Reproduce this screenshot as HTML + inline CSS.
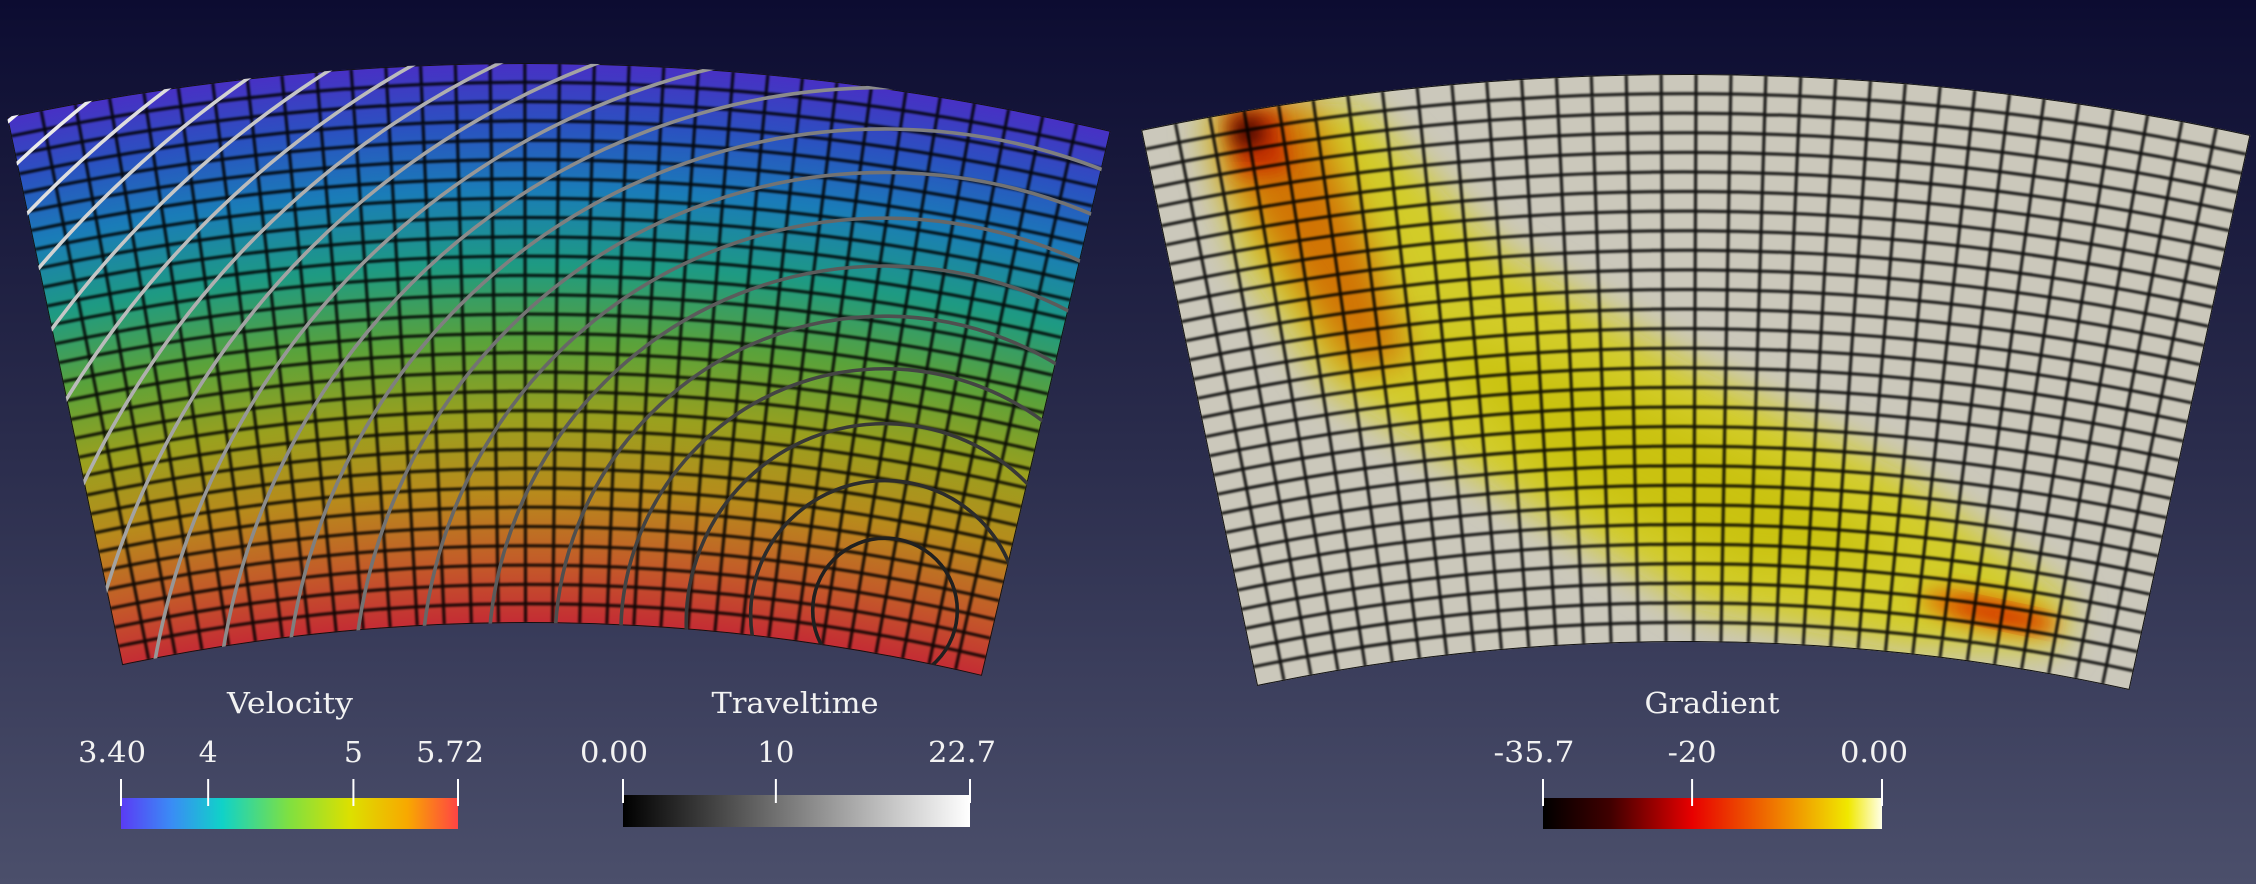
<!DOCTYPE html>
<html><head><meta charset="utf-8">
<style>
html,body{margin:0;padding:0;width:2256px;height:884px;overflow:hidden;}
svg{display:block;position:absolute;left:0;top:0;}
text{font-family:"DejaVu Serif","Liberation Serif",serif;fill:#f2f2f2;}
</style></head>
<body>
<svg id="main" width="2256" height="884" viewBox="0 0 2256 884" xmlns="http://www.w3.org/2000/svg">
<defs>
  <linearGradient id="bg" x1="0" y1="0" x2="0" y2="1">
    <stop offset="0" stop-color="#0c0c31"/>
    <stop offset="0.5" stop-color="#2a2c4c"/>
    <stop offset="1" stop-color="#4b4f6b"/>
  </linearGradient>
  <radialGradient id="velField" gradientUnits="userSpaceOnUse" cx="528" cy="2596" r="2533">
    <stop offset="0.779" stop-color="#c42c34"/>
    <stop offset="0.80" stop-color="#c4562a"/>
    <stop offset="0.83" stop-color="#b88a1c"/>
    <stop offset="0.86" stop-color="#9aa01e"/>
    <stop offset="0.89" stop-color="#5aa23a"/>
    <stop offset="0.92" stop-color="#1e9a82"/>
    <stop offset="0.95" stop-color="#1a7cb8"/>
    <stop offset="0.975" stop-color="#2a52c0"/>
    <stop offset="1" stop-color="#4830c4"/>
  </radialGradient>
  <linearGradient id="velBar" x1="0" y1="0" x2="1" y2="0">
    <stop offset="0" stop-color="#5a3cf5"/>
    <stop offset="0.15" stop-color="#3a8cf5"/>
    <stop offset="0.3" stop-color="#10d2c8"/>
    <stop offset="0.5" stop-color="#80e040"/>
    <stop offset="0.68" stop-color="#dce000"/>
    <stop offset="0.85" stop-color="#f8a800"/>
    <stop offset="1" stop-color="#ff4444"/>
  </linearGradient>
  <linearGradient id="ttBar" x1="0" y1="0" x2="1" y2="0">
    <stop offset="0" stop-color="#000"/>
    <stop offset="1" stop-color="#fff"/>
  </linearGradient>
  <linearGradient id="grBar" x1="0" y1="0" x2="1" y2="0">
    <stop offset="0" stop-color="#000"/>
    <stop offset="0.2" stop-color="#400000"/>
    <stop offset="0.44" stop-color="#e80000"/>
    <stop offset="0.7" stop-color="#f08000"/>
    <stop offset="0.9" stop-color="#f0e800"/>
    <stop offset="1" stop-color="#ffffe8"/>
  </linearGradient>
  <clipPath id="clipL"><path id="clipLPath"/></clipPath>
  <clipPath id="clipR"><path id="clipRPath"/></clipPath>
  <filter id="blur18" x="-50%" y="-50%" width="200%" height="200%"><feGaussianBlur stdDeviation="18"/></filter>
  <filter id="blur10" x="-50%" y="-50%" width="200%" height="200%"><feGaussianBlur stdDeviation="10"/></filter>
  <filter id="blur1"><feGaussianBlur stdDeviation="1"/></filter>
</defs>
<rect x="0" y="0" width="2256" height="884" fill="url(#bg)"/>
<g id="left"></g>
<g id="right"></g>
<g id="bars"></g>
</svg>
<script>
const velocityTicks = [3.40, 4, 5, 5.72];
const velocityTickLabels = ["3.40", "4", "5", "5.72"];
const travelTicks = [0, 10, 22.7];
const travelTickLabels = ["0.00", "10", "22.7"];
const gradientTicks = [-35.7, -20, 0];
const gradientTickLabels = ["-35.7", "-20", "0.00"];
const contourTimes = [1.2, 2.4, 3.6, 4.8, 6.0, 7.2, 8.4, 9.6, 10.8, 12.0, 13.2, 14.4, 15.6, 16.8, 18.0, 19.2, 20.4, 21.6, 22.7];

const NS = "http://www.w3.org/2000/svg";
function mk(tag, attrs, parent){
  const e = document.createElementNS(NS, tag);
  for (const k in attrs) e.setAttribute(k, attrs[k]);
  parent.appendChild(e);
  return e;
}
const L = {cx:528, cy:2596, ro:2533, ri:1973, a0:-11.87, a1:13.3};
const R = {cx:1684, cy:2733, ro:2659, ri:2091, a0:-11.78, a1:12.3};
function pt(s, r, a){ const t = a*Math.PI/180; return [s.cx + r*Math.sin(t), s.cy - r*Math.cos(t)]; }
function sectorPath(s){
  const p1 = pt(s, s.ro, s.a0), p2 = pt(s, s.ro, s.a1), p3 = pt(s, s.ri, s.a1), p4 = pt(s, s.ri, s.a0);
  return `M${p1} A${s.ro},${s.ro} 0 0 1 ${p2} L${p3} A${s.ri},${s.ri} 0 0 0 ${p4} Z`;
}
document.getElementById('clipLPath').setAttribute('d', sectorPath(L));
document.getElementById('clipRPath').setAttribute('d', sectorPath(R));

function drawGrid(s, g){
  const nc = 32, nr = 29;
  let d = "";
  for (let i = 1; i < nc; i++){
    const a = s.a0 + (s.a1 - s.a0)*i/nc;
    const p = pt(s, s.ro, a), q = pt(s, s.ri, a);
    d += `M${p} L${q} `;
  }
  for (let j = 1; j < nr; j++){
    const r = s.ri + (s.ro - s.ri)*j/nr;
    const p = pt(s, r, s.a0), q = pt(s, r, s.a1);
    d += `M${p} A${r},${r} 0 0 1 ${q} `;
  }
  const grid = mk('path', {d:d, fill:'none', stroke:'#050505', 'stroke-width':3, 'stroke-opacity':0.9, filter:'url(#blur1)'}, g);
  
  
  const outline = mk('path', {d:sectorPath(s), fill:'none', stroke:'#111', 'stroke-width':2}, g);
  
  
}

// LEFT panel
const left = document.getElementById('left');
const lc = mk('g', {'clip-path':'url(#clipL)'}, left);
const field = mk('rect', {x:0, y:0, width:1128, height:884, fill:'url(#velField)'}, lc);


drawGrid(L, lc);
// traveltime contours: circles whose centres sink with time (velocity gradient)
const src = [885, 609];
const ttMax = 22.7;
contourTimes.forEach((t) => {
  const shift = 1.035*t*t;
  const reach = 55*t;
  const r = Math.sqrt(reach*reach + (31 - shift)*(31 - shift));
  const v = Math.round(20 + 225*(t/ttMax));
  const c = mk('circle', {cx:src[0], cy:src[1] + shift, r:r, fill:'none', stroke:`rgb(${v},${v},${v})`, 'stroke-width':3.6}, lc);
  
  
});

// RIGHT panel
const right = document.getElementById('right');
const rc = mk('g', {'clip-path':'url(#clipR)'}, right);
const base = mk('rect', {x:1128, y:0, width:1128, height:884, fill:'#cbc8bb'}, rc);


const anom = mk('g', {}, rc);


mk('polygon', {points:"1215,100 1360,105 1500,250 1700,370 1900,470 2070,600 2060,650 1900,650 1700,610 1500,490 1330,390 1240,260 1205,120", fill:'#d4cc10', 'fill-opacity':0.85, filter:'url(#blur18)'}, anom);
mk('polygon', {points:"1420,330 1600,380 1800,480 1900,560 1750,570 1550,480", fill:'#c4bc00', 'fill-opacity':0.6, filter:'url(#blur18)'}, anom);
mk('polygon', {points:"1220,110 1310,105 1370,250 1410,360 1350,370 1280,260 1230,180", fill:'#d06a00', 'fill-opacity':0.9, filter:'url(#blur18)'}, anom);
mk('polygon', {points:"1225,110 1280,110 1290,170 1240,175", fill:'#c83000', filter:'url(#blur10)'}, anom);
mk('circle', {cx:1248, cy:132, r:15, fill:'#300000', filter:'url(#blur10)'}, anom);
mk('ellipse', {cx:1990, cy:612, rx:70, ry:16, transform:'rotate(12 1990 612)', fill:'#e07000', filter:'url(#blur10)'}, anom);
mk('ellipse', {cx:2000, cy:615, rx:50, ry:8, transform:'rotate(12 2000 615)', fill:'#d03000', filter:'url(#blur10)'}, anom);
drawGrid(R, rc);

// COLORBARS
const bars = document.getElementById('bars');
function colorbar(opt){
  const g = mk('g', {}, bars);
  
  
  const rect = mk('rect', {x:opt.x0, y:opt.y, width:opt.x1-opt.x0, height:opt.h, fill:opt.fill}, g);
  
  
  const title = mk('text', {x:opt.tx, y:713, 'text-anchor':'middle', 'font-size':29, textLength:opt.tw, lengthAdjust:'spacingAndGlyphs'}, g);
  title.textContent = opt.title;
  
  
  const sc = v => opt.x0 + (v - opt.min)/(opt.max - opt.min)*(opt.x1 - opt.x0);
  opt.ticks.forEach((v, i) => {
    const x = sc(v);
    const tk = mk('line', {x1:x, x2:x, y1:779, y2:opt.y + 8, stroke:'#fff', 'stroke-width':2}, g);
    
    
    let lx = x;
    if (i === 0) lx = x - 9;
    if (i === opt.ticks.length - 1) lx = x - 8;
    const lab = opt.labels[i];
    const w = lab.length <= 1 ? 19 : lab.length === 2 ? 37 : lab.length === 3 ? 49 : lab.length === 4 ? 68 : 81;
    const t = mk('text', {x:lx, y:762, 'text-anchor':'middle', 'font-size':29, textLength:w, lengthAdjust:'spacingAndGlyphs'}, g);
    t.textContent = lab;
    
    
  });
}
colorbar({name:'velocity-colorbar', title:'Velocity', tx:290, tw:126, x0:121, x1:458, y:798, h:31, fill:'url(#velBar)', min:velocityTicks[0], max:velocityTicks[velocityTicks.length-1], ticks:velocityTicks, labels:velocityTickLabels});
colorbar({name:'traveltime-colorbar', title:'Traveltime', tx:795, tw:167, x0:623, x1:970, y:795, h:32, fill:'url(#ttBar)', min:travelTicks[0], max:travelTicks[travelTicks.length-1], ticks:travelTicks, labels:travelTickLabels});
colorbar({name:'gradient-colorbar', title:'Gradient', tx:1712, tw:135, x0:1543, x1:1882, y:798, h:31, fill:'url(#grBar)', min:gradientTicks[0], max:gradientTicks[gradientTicks.length-1], ticks:gradientTicks, labels:gradientTickLabels});
</script>
</body></html>
